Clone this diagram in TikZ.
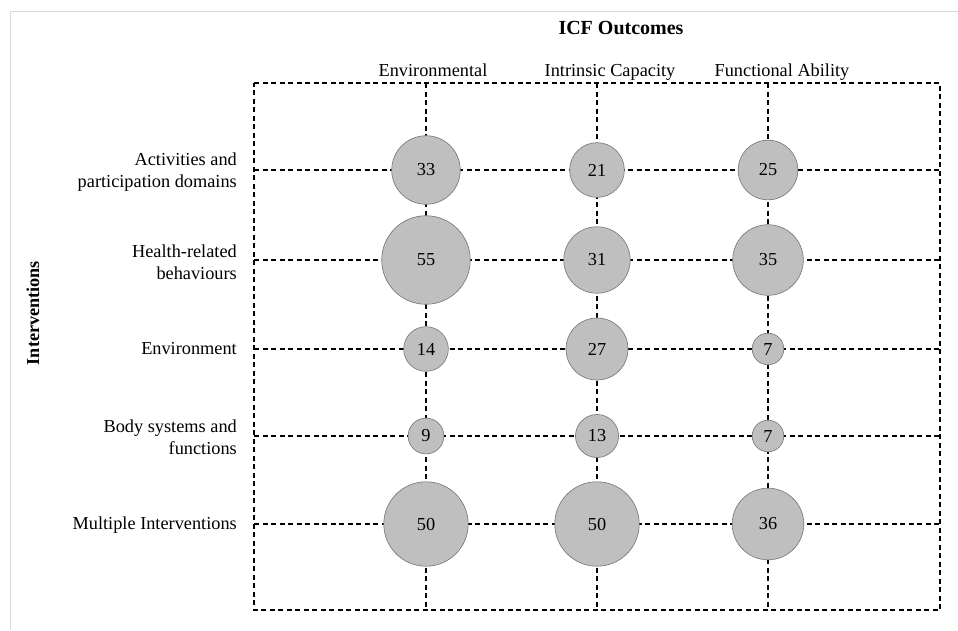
\documentclass[tikz,border=0pt]{standalone}
\usepackage{fontspec}
\setmainfont{Liberation Serif}
\begin{document}
\begin{tikzpicture}[x=1pt,y=-1pt,
  grid/.style={draw=black,line width=1.2pt,dash pattern=on 5pt off 3.5pt},
  bubble/.style={circle,draw=gray!90!black,line width=0.6pt,fill=black!25,inner sep=0pt,font=\fontsize{18.3}{20}\selectfont},
  rowlab/.style={anchor=east,align=right,inner sep=0pt,font=\fontsize{18.3}{22.5}\selectfont},
  collab/.style={anchor=base,inner sep=0pt,font=\fontsize{18.3}{20}\selectfont},
  frameline/.style={draw=black!15,line width=1pt}]
\useasboundingbox (0,0) rectangle (958,630);
% outer frame lines
\coordinate (F0) at (10,11);
\coordinate (F1) at (958,11);
\coordinate (F2) at (10,630);
\draw[frameline] (F1) -- (F0) -- (F2);
% box
\coordinate (TL) at (254,83);
\coordinate (TR) at (940,83);
\coordinate (BR) at (940,610);
\coordinate (BL) at (254,610);
\draw[grid] (TL) -- (TR) -- (BR) -- (BL) -- cycle;
% column lines
\foreach \i/\x in {1/426,2/597,3/768}{
  \coordinate (T\i) at (\x,83);
  \coordinate (B\i) at (\x,610);
  \draw[grid] (T\i) -- (B\i);
}
% row lines
\foreach \j/\y in {1/170,2/260,3/349,4/436,5/524}{
  \coordinate (L\j) at (254,\y);
  \coordinate (R\j) at (940,\y);
  \draw[grid] (L\j) -- (R\j);
}
% bubbles: radius = 5.97*sqrt(n)
\foreach \j/\y/\a/\b/\c in {1/170/33/21/25,2/260/55/31/35,3/349/14/27/7,4/436/9/13/7,5/524/50/50/36}{
  \node[bubble,minimum size={2*5.97*sqrt(\a)}] (c\j1) at (426,\y) {\a};
  \node[bubble,minimum size={2*5.97*sqrt(\b)}] (c\j2) at (597,\y) {\b};
  \node[bubble,minimum size={2*5.97*sqrt(\c)}] (c\j3) at (768,\y) {\c};
}
% titles
\node[inner sep=0pt,font=\fontsize{20}{22}\bfseries\selectfont] (title) at (621,28) {ICF Outcomes};
\node[inner sep=0pt,rotate=90,font=\fontsize{18.2}{20}\bfseries\selectfont] (ylab) at (33,313) {Interventions};
% column labels
\node[collab] (h1) at (433,76) {Environmental};
\node[collab] (h2) at (610,76) {Intrinsic Capacity};
\node[collab] (h3) at (782,76) {Functional Ability};
% row labels
\node[rowlab] (r1) at (237,172) {Activities and\\participation domains};
\node[rowlab] (r2) at (237,262) {Health-related\\behaviours};
\node[rowlab] (r3) at (237,349) {Environment};
\node[rowlab] (r4) at (237,437) {Body systems and\\functions};
\node[rowlab] (r5) at (237,525) {Multiple Interventions};
\end{tikzpicture}
\end{document}
